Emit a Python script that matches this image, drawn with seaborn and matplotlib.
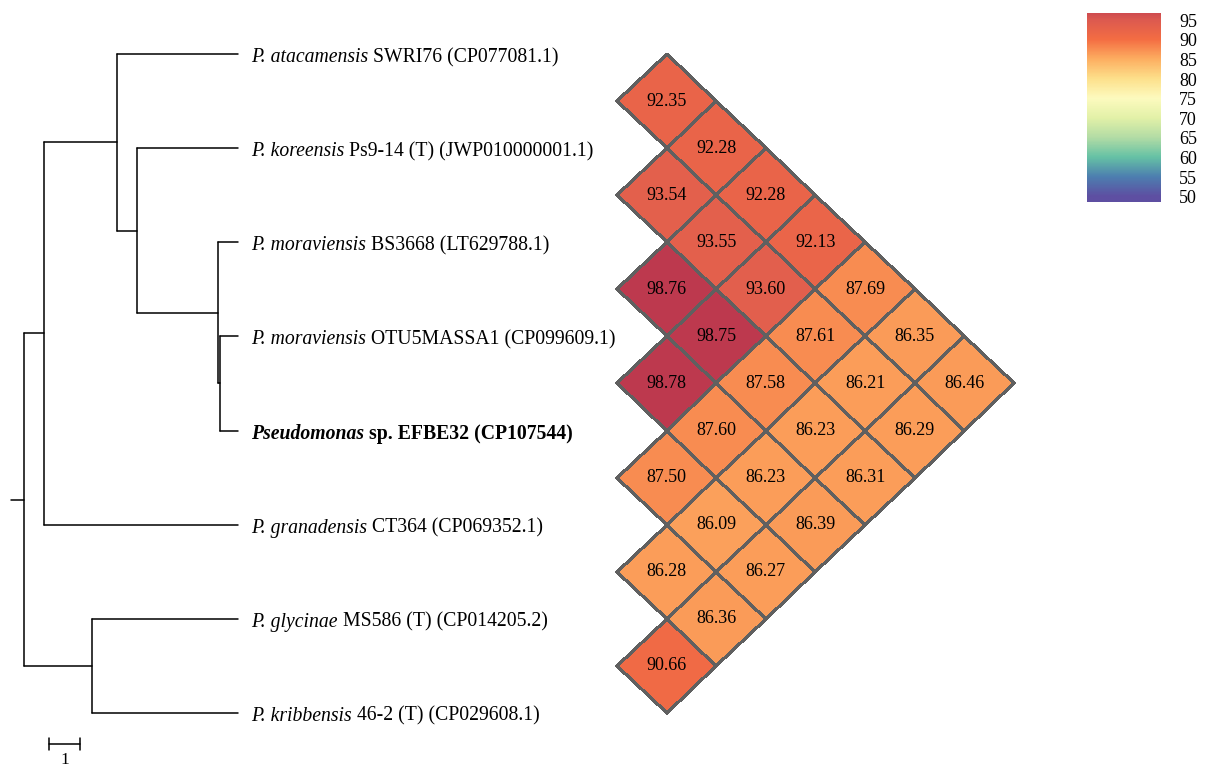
import numpy as np
import pandas as pd
import seaborn as sns
import matplotlib.pyplot as plt
from matplotlib.colors import to_rgba
from matplotlib.transforms import Affine2D

# tip labels, top to bottom (italic part + plain part)
taxa_italic = ["P. atacamensis", "P. koreensis", "P. moraviensis", "P. moraviensis",
               "Pseudomonas", "P. granadensis", "P. glycinae", "P. kribbensis"]
taxa_rest = [" SWRI76 (CP077081.1)", " Ps9-14 (T) (JWP010000001.1)", " BS3668 (LT629788.1)",
             " OTU5MASSA1 (CP099609.1)", " sp. EFBE32 (CP107544)", " CT364 (CP069352.1)",
             " MS586 (T) (CP014205.2)", " 46-2 (T) (CP029608.1)"]
highlight = 4

# tree topology (depth in branch length units)
tip_parent = ["n2", "n3", "n4", "n5", "n5", "n1", "n6", "n6"]
tip_depth = 6.9
node_names = ["root", "n1", "n2", "n3", "n4", "n5", "n6"]
node_depth = [0.0, 0.65, 3.0, 3.65, 6.26, 6.31, 2.19]
node_parent = [None, "root", "n1", "n2", "n3", "n4", "root"]

# pairwise ANI, upper triangle row by row
ani_rows = [
    [92.35, 92.28, 92.28, 92.13, 87.69, 86.35, 86.46],
    [93.54, 93.55, 93.60, 87.61, 86.21, 86.29],
    [98.76, 98.75, 87.58, 86.23, 86.31],
    [98.78, 87.60, 86.23, 86.39],
    [87.50, 86.09, 86.27],
    [86.28, 86.36],
    [90.66],
]
cbar_ticks = [50, 55, 60, 65, 70, 75, 80, 85, 90, 95]
ani_colors = ["#5e4fa2", "#4d7fb0", "#66c2a5", "#b3dca5", "#e3f1a8", "#fdfbbf",
              "#fde08b", "#fdae61", "#f46d43", "#dc5a50", "#b32f4e"]

sns.set_style("white")
plt.rcParams['font.family'] = ['Liberation Serif', 'DejaVu Serif']
plt.rcParams['text.color'] = 'black'
plt.rcParams['ytick.color'] = 'black'

W, H = 1206, 766
px_x, x0 = 31.0, 24.0      # pixels per branch unit, root position
px_y, y0 = 94.14, 54.0     # pixels per tip, first tip position

fig = plt.figure(figsize=(W / 100, H / 100), dpi=100)
ax = fig.add_axes([0, 0, 1, 1])

# ---- tree ----
children = {n: [] for n in node_names}
for i, p in enumerate(tip_parent):
    children[p].append(("tip", i))
for n, p in zip(node_names, node_parent):
    if p is not None:
        children[p].append(("node", n))
depth = dict(zip(node_names, node_depth))
ypos = {}

def node_y(kind, key):
    if kind == "tip":
        return float(key)
    if key not in ypos:
        ys = [node_y(k, c) for k, c in children[key]]
        ypos[key] = (min(ys) + max(ys)) / 2
    return ypos[key]

rows = []
seg = 0
for n in node_names:
    ys = []
    for kind, c in children[n]:
        cy = node_y(kind, c)
        cx = tip_depth if kind == "tip" else depth[c]
        ys.append(cy)
        rows += [(seg, depth[n], cy), (seg, cx, cy)]
        seg += 1
    rows += [(seg, depth[n], min(ys)), (seg, depth[n], max(ys))]
    seg += 1
ry = node_y("node", "root")
rows += [(seg, -0.42, ry), (seg, 0.0, ry)]
seg_df = pd.DataFrame(rows, columns=["seg", "x", "y"])

sns.lineplot(data=seg_df, x="x", y="y", units="seg", estimator=None, sort=False,
             color="black", linewidth=1.1, ax=ax)

# scale bar
sb_y = (744 - y0) / px_y
sb_x = (49 - x0) / px_x
ax.plot([sb_x, sb_x + 1], [sb_y, sb_y], color="black", lw=1.1)
for xx in (sb_x, sb_x + 1):
    ax.plot([xx, xx], [sb_y - 0.065, sb_y + 0.065], color="black", lw=1.1)
ax.text(sb_x + 0.5, sb_y + 0.17, "1", ha="center", va="center", fontsize=12.5)

ax.set_xlim(-x0 / px_x, (W - x0) / px_x)
ax.set_ylim((H - y0) / px_y, -y0 / px_y)
ax.axis("off")

# tip labels
renderer = fig.canvas.get_renderer()
lab_x = (251 - x0) / px_x
for i in range(len(taxa_italic)):
    weight = "bold" if i == highlight else "normal"
    yb = i + 8 / px_y
    t = ax.text(lab_x, yb, taxa_italic[i], style="italic", fontweight=weight,
                fontsize=14.2, va="baseline", ha="left")
    x1 = t.get_window_extent(renderer=renderer).x1
    xr = ax.transData.inverted().transform((x1, 0))[0]
    ax.text(xr, yb, taxa_rest[i], fontweight=weight, fontsize=14.2,
            va="baseline", ha="left")

# ---- rotated triangular heatmap ----
n = len(taxa_italic)
mat = np.full((n, n), np.nan)
for i, row in enumerate(ani_rows):
    for k, v in enumerate(row):
        mat[i, i + 1 + k] = v
df_ani = pd.DataFrame(mat)
mask = np.isnan(mat)

cmap = sns.blend_palette(ani_colors, as_cmap=True)
hx0, hx1 = 617, 1014
ax_hm = fig.add_axes([hx0 / W, 0, (hx1 - hx0) / W, 1])
sns.heatmap(df_ani, mask=mask, cmap=cmap, vmin=50, vmax=100, annot=True, fmt=".2f",
            linewidths=1.5, linecolor="#606060", cbar=False,
            annot_kws={"size": 13, "color": "black"}, ax=ax_hm)
rot = Affine2D(np.array([[0.5, -0.5, 0.0], [0.5, 0.5, -0.5], [0, 0, 1]]))
mesh = ax_hm.collections[0]
edge = to_rgba("#606060")
mesh.set_edgecolor([(0, 0, 0, 0) if m else edge for m in mask.ravel()])
mesh.set_transform(rot + ax_hm.transData)
mesh.set_clip_on(False)
for t in ax_hm.texts:
    t.set_transform(rot + ax_hm.transData)
ax_hm.set_xlim(0, 4)
ax_hm.set_ylim((H - y0) / px_y, -y0 / px_y)
ax_hm.axis("off")

# colour bar
lo, hi = 48.7, 96.8
cax = fig.add_axes([1087 / W, 1 - 202 / H, 74 / W, 189 / H])
grad = np.linspace(lo, hi, 300)[:, None]
cax.imshow(grad, cmap=cmap, vmin=50, vmax=100, aspect="auto", origin="lower",
           extent=[0, 1, lo, hi])
cax.set_xticks([])
cax.yaxis.tick_right()
cax.set_yticks(cbar_ticks)
cax.set_yticklabels([str(v) for v in cbar_ticks])
cax.tick_params(axis="y", length=0, pad=13, labelsize=13, labelcolor="black")
for s in cax.spines.values():
    s.set_visible(False)

fig.savefig("out.png", dpi=100)
